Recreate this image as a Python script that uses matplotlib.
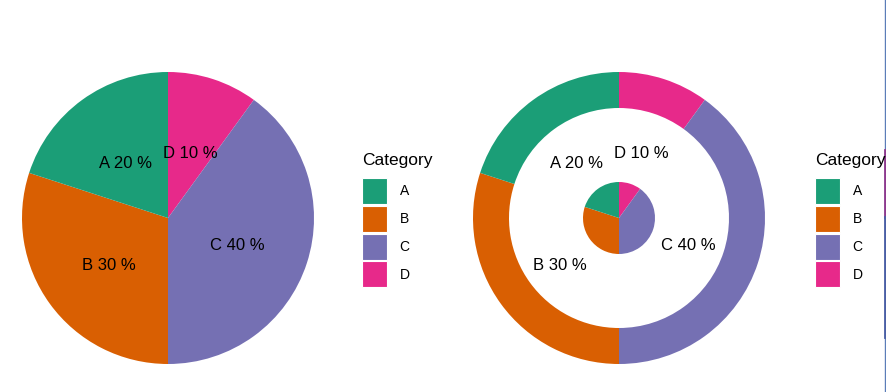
import matplotlib.pyplot as plt
from matplotlib.patches import Patch
from matplotlib.lines import Line2D

plt.rcParams['font.family'] = ['Liberation Sans', 'DejaVu Sans']

categories = ['D', 'C', 'B', 'A']
values = [10, 40, 30, 20]
legend_order = ['A', 'B', 'C', 'D']
colors = {'A': '#1B9E77', 'B': '#D95F02', 'C': '#7570B3', 'D': '#E7298A'}

W, H = 887, 392
fig = plt.figure(figsize=(W / 100, H / 100), dpi=100)

def make_ax(cx, cy, size=300):
    ax = fig.add_axes([(cx - size / 2) / W, (H - cy - size / 2) / H, size / W, size / H])
    ax.axis('off')
    return ax

def fix_limits(ax, texts):
    ax.set_xlim(-1.5, 1.5)
    ax.set_ylim(-1.5, 1.5)
    ax.set_aspect('equal')
    # labels sit a little below the mid-radius point
    for t in texts:
        x, y = t.get_position()
        t.set_position((x, y - 0.05))

labels = [f'{c} {v} %' for c, v in zip(categories, values)]
cols = [colors[c] for c in categories]
txt = dict(fontsize=12, ha='center', va='center')

# left: plain pie
ax1 = make_ax(168, 218)
_, t1 = ax1.pie(values, labels=labels, colors=cols, startangle=90, counterclock=False,
                radius=1.46, labeldistance=0.5, textprops=txt)
fix_limits(ax1, t1)

# right: ring plus small pie in the middle
ax2 = make_ax(619, 218)
_, t2 = ax2.pie(values, labels=labels, colors=cols, startangle=90, counterclock=False,
                radius=1.46, labeldistance=0.5, wedgeprops=dict(width=0.36), textprops=txt)
ax2.pie(values, colors=cols, startangle=90, counterclock=False, radius=0.36)
fix_limits(ax2, t2)

handles = [Patch(facecolor=colors[c], edgecolor='white', linewidth=0.8) for c in legend_order]
for lx in (362, 815):
    fig.text(lx / W, 1 - 161 / H, 'Category', fontsize=12.5, ha='left', va='center')
    fig.legend(handles, legend_order, loc='upper left',
               bbox_to_anchor=(lx / W, 1 - 178 / H), frameon=False, fontsize=10,
               handlelength=1.8, handleheight=2.5, labelspacing=0.13,
               handletextpad=0.9, borderpad=0, borderaxespad=0)

# edge of the neighbouring panel, cut off at the right border
ex = 885 / W
fig.add_artist(Line2D([ex, ex], [0, 1], color='#5B7DB8', linewidth=1.0))
fig.add_artist(Line2D([ex, ex], [1 - 217 / H, 1 - 150 / H], color='#8E3A8E', linewidth=2.0))
fig.add_artist(Line2D([ex, ex], [1 - 337 / H, 1 - 217 / H], color='#4A5FA5', linewidth=2.0))

fig.savefig('out.png', dpi=100)
